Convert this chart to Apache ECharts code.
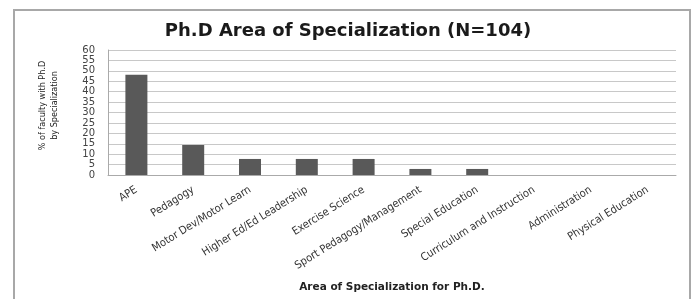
<!DOCTYPE html>
<html>
<head>
<meta charset="utf-8">
<script src="https://cdn.jsdelivr.net/npm/echarts@6/dist/echarts.min.js"></script>
<style>
  html, body { margin: 0; padding: 0; background: #fff; }
  #chart { width: 696px; height: 299px; }
</style>
</head>
<body>
<div id="chart"></div>
<script>
  // areas of specialization (x axis)
  var areas = ['APE', 'Pedagogy', 'Motor Dev/Motor Learn', 'Higher Ed/Ed Leadership',
    'Exercise Science', 'Sport Pedagogy/Management', 'Special Education',
    'Curriculum and Instruction', 'Administration', 'Physical Education'];
  // % of faculty
  var pctFaculty = [48.1, 14.4, 7.7, 7.7, 7.7, 2.9, 2.9, 0, 0, 0];

  var myChart = echarts.init(document.getElementById('chart'));
  var option = {
    animation: false,
    title: {
      text: 'Ph.D Area of Specialization (N=104)',
      left: 'center',
      top: 17,
      textStyle: { fontFamily: 'DejaVu Sans', fontWeight: 'bold', fontSize: 18, color: '#1a1a1a' }
    },
    graphic: [{
      type: 'rect',
      shape: { x: 14, y: 10, width: 676, height: 300 },
      style: { fill: 'none', stroke: '#a8a8a8', lineWidth: 2 }
    }],
    grid: { left: 108, right: 20, top: 50, bottom: 124, outerBoundsMode: 'none' },
    xAxis: {
      type: 'category',
      data: areas,
      name: 'Area of Specialization for Ph.D.',
      nameLocation: 'middle',
      nameGap: 107,
      nameTextStyle: { fontFamily: 'DejaVu Sans', fontWeight: 'bold', fontSize: 10.5, color: '#222' },
      axisLine: { lineStyle: { color: '#aaa' } },
      axisTick: { show: false },
      axisLabel: { rotate: 32, interval: 0, fontFamily: 'DejaVu Sans Condensed', fontSize: 11, color: '#333', margin: 14 }
    },
    yAxis: {
      type: 'value',
      min: 0, max: 60, interval: 5,
      name: '% of faculty with Ph.D\nby Specialization',
      nameLocation: 'middle',
      nameRotate: 90,
      nameGap: 47,
      nameTextStyle: { fontFamily: 'DejaVu Sans Condensed', fontSize: 9, color: '#222', lineHeight: 12, padding: [0, 0, 0, 14] },
      axisLine: { show: true, lineStyle: { color: '#aaa' } },
      axisTick: { show: false },
      axisLabel: { fontFamily: 'DejaVu Sans', fontSize: 10, color: '#444', margin: 13 },
      splitLine: { lineStyle: { color: '#c8c8c8' } }
    },
    series: [{
      type: 'bar',
      data: pctFaculty,
      barWidth: 22,
      itemStyle: { color: '#595959' }
    }]
  };
  myChart.setOption(option);
</script>
</body>
</html>
